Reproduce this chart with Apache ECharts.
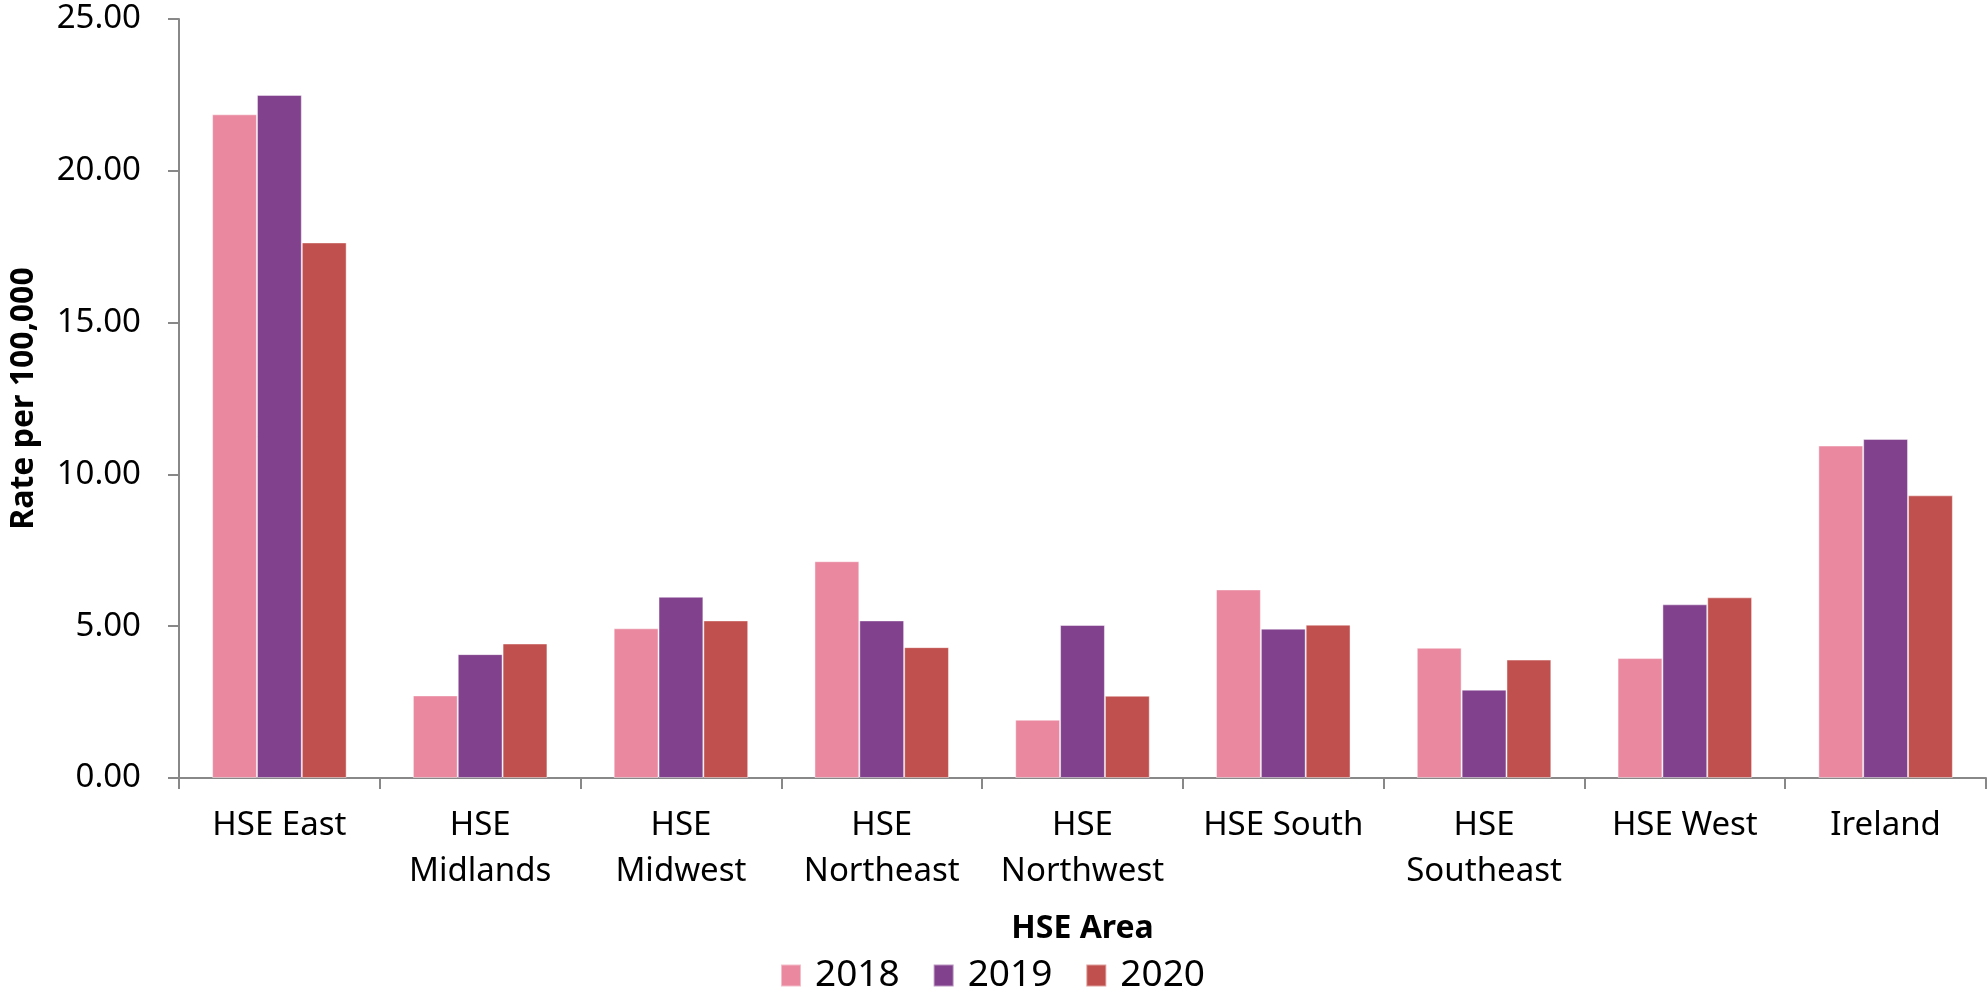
<!DOCTYPE html>
<html>
<head>
<meta charset="utf-8">
<title>Rate per 100,000 by HSE Area</title>
<script src="https://cdn.jsdelivr.net/npm/echarts@6/dist/echarts.min.js"></script>
<style>
  html, body { margin: 0; padding: 0; background: #fff; }
  #main { width: 1987px; height: 991px; }
</style>
</head>
<body>
<div id="main"></div>
<script>
// categories as shown on the axis (wrapped like the original)
var areas = ['HSE East', 'HSE\nMidlands', 'HSE\nMidwest', 'HSE\nNortheast', 'HSE\nNorthwest',
             'HSE South', 'HSE\nSoutheast', 'HSE West', 'Ireland'];
var years = ['2018', '2019', '2020'];

// rates per 100,000
var rate2018 = [21.86, 2.72, 4.93, 7.14, 1.92, 6.21, 4.29, 3.95, 10.95];
var rate2019 = [22.50, 4.08, 5.97, 5.19, 5.04, 4.92, 2.91, 5.72, 11.17];
var rate2020 = [17.64, 4.43, 5.19, 4.31, 2.71, 5.05, 3.90, 5.95, 9.31];

var colors = ['#E9889F', '#81418C', '#C0504D'];
var font = 'Noto Sans';
var axisGrey = '#888888';

var chart = echarts.init(document.getElementById('main'));

function bar(name, values, color) {
  return {
    name: name,
    type: 'bar',
    data: values,
    barGap: '0%',
    barCategoryGap: '33%',
    itemStyle: { color: color, borderColor: 'rgba(255,255,255,0.45)', borderWidth: 1 }
  };
}

chart.setOption({
  backgroundColor: '#fff',
  animation: false,
  textStyle: { fontFamily: font },
  grid: { left: 177, right: 1, top: 19, bottom: 213 },
  legend: {
    data: years,
    left: 775,
    top: 952,
    icon: 'rect',
    itemWidth: 20,
    itemHeight: 22,
    itemGap: 33,
    textStyle: { fontFamily: font, fontSize: 37, color: '#000', lineHeight: 37, padding: [0, 0, 0, 9] }
  },
  xAxis: {
    type: 'category',
    data: areas,
    name: 'HSE Area',
    nameLocation: 'middle',
    nameGap: 135,
    nameTextStyle: { fontFamily: font, fontSize: 32, fontWeight: 'bold', color: '#000' },
    axisLine: { lineStyle: { color: axisGrey, width: 2 } },
    axisTick: { show: true, length: 11, lineStyle: { color: axisGrey, width: 2 } },
    axisLabel: { interval: 0, margin: 25, fontFamily: font, fontSize: 33, lineHeight: 46, color: '#000' }
  },
  yAxis: {
    type: 'value',
    min: 0,
    max: 25,
    interval: 5,
    name: 'Rate per 100,000',
    nameLocation: 'middle',
    nameGap: 139,
    nameTextStyle: { fontFamily: font, fontSize: 32, fontWeight: 'bold', color: '#000' },
    axisLine: { show: true, lineStyle: { color: axisGrey, width: 2 } },
    axisTick: { show: true, length: 11, lineStyle: { color: axisGrey, width: 2 } },
    splitLine: { show: false },
    axisLabel: {
      margin: 38,
      fontFamily: font,
      fontSize: 33,
      color: '#000',
      formatter: function (v) { return v.toFixed(2); }
    }
  },
  series: [
    bar(years[0], rate2018, colors[0]),
    bar(years[1], rate2019, colors[1]),
    bar(years[2], rate2020, colors[2])
  ]
});
</script>
</body>
</html>
